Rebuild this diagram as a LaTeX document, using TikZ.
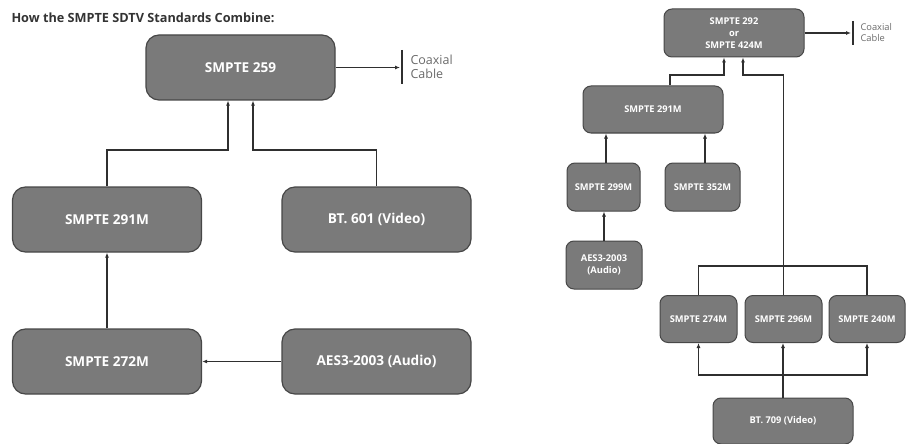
\documentclass[tikz,border=0pt]{standalone}
\usepackage{fontspec}
\setsansfont{Open Sans}
\usepackage{tikz}
\usetikzlibrary{arrows.meta}

\definecolor{boxgray}{HTML}{7A7A7A}
\definecolor{boxedge}{HTML}{474747}
\definecolor{linegray}{HTML}{2F2F2F}
\definecolor{titlegray}{HTML}{333333}
\definecolor{cablegray}{HTML}{6A6A6A}

\begin{document}
\begin{tikzpicture}[x=1pt,y=-1pt,
  stdbox/.style={draw=boxedge, line width=1.2pt, fill=boxgray, rounded corners=13pt,
    text=white, inner sep=0pt, font=\sffamily\bfseries\fontsize{13.6}{15}\selectfont,
    minimum width=189pt, minimum height=65pt},
  smallbox/.style={stdbox, rounded corners=8pt, line width=1pt, align=center,
    font=\sffamily\bfseries\fontsize{9.3}{12}\selectfont,
    minimum width=76pt, minimum height=47pt},
  widebox/.style={smallbox, minimum width=140pt},
  link/.style={draw=linegray, line width=1.1pt},
  arr/.style={link, -{Latex[length=5pt,width=4pt]}},
  cable/.style={text=cablegray, align=left, anchor=west}]
\useasboundingbox (0,0) rectangle (906,444);

% title
\node[anchor=west, text=titlegray, font=\sffamily\bfseries\fontsize{12.7}{14}\selectfont]
  (title) at (8,18) {How the SMPTE SDTV Standards Combine:};

% SDTV chain
\node[stdbox] (s259) at (240.5,67.5) {SMPTE 259};
\node[stdbox] (s291l) at (107,219.5) {SMPTE 291M};
\node[stdbox] (bt601) at (376.5,219.5) {BT. 601 (Video)};
\node[stdbox] (s272) at (107,361.5) {SMPTE 272M};
\node[stdbox] (aesl) at (376.5,361.5) {AES3-2003 (Audio)};

\coordinate (coaxl) at (400,67.5);
\draw[arr] (s259.east) -- (coaxl);
\draw[link] (402,50) -- (402,84);
\node[cable, font=\sffamily\fontsize{12.5}{14}\selectfont] (cablel) at (407,67) {Coaxial\\Cable};

\coordinate (in1) at ([xshift=-12.5pt]s259.south);
\coordinate (in2) at ([xshift=12.5pt]s259.south);
\draw[arr] (s291l.north) |- (in1 |- 0,150) -- (in1);
\draw[arr] (bt601.north) |- (in2 |- 0,150) -- (in2);
\draw[arr] (s272.north) -- (s291l.south);
\draw[arr] (aesl.west) -- (s272.east);

% HDTV chain
\node[widebox, minimum height=48pt] (s292) at (734,33) {SMPTE 292\\or\\SMPTE 424M};
\node[widebox] (s291r) at (653,109.5) {SMPTE 291M};
\node[smallbox, minimum width=73pt, minimum height=48pt] (s299) at (603.5,187) {SMPTE 299M};
\node[smallbox, minimum width=75pt, minimum height=48pt] (s352) at (702.5,187) {SMPTE 352M};
\node[smallbox, minimum height=48pt] (aesr) at (604,265) {AES3-2003\\(Audio)};
\node[smallbox, minimum width=77pt] (s274) at (698.5,319) {SMPTE 274M};
\node[smallbox, minimum width=77pt] (s296) at (783.5,319) {SMPTE 296M};
\node[smallbox] (s240) at (867,319) {SMPTE 240M};
\node[widebox, minimum height=46pt] (bt709) at (783,421) {BT. 709 (Video)};

\coordinate (coaxr) at (851,33);
\draw[arr] (s292.east) -- (coaxr);
\draw[link] (853,21) -- (853,45);
\node[cable, font=\sffamily\fontsize{9.3}{11}\selectfont] (cabler) at (857,33) {Coaxial\\Cable};

\coordinate (in3) at ([xshift=-10pt]s292.south);
\coordinate (in4) at ([xshift=9pt]s292.south);
\draw[arr] ([xshift=17pt]s291r.north) |- (in3 |- 0,75) -- (in3);
\draw[arr] (s296.north) |- (in4 |- 0,75) -- (in4);
\draw[arr] ([xshift=2.5pt]s299.north) -- ([xshift=2.5pt]s299.north |- s291r.south);
\draw[arr] ([xshift=2.5pt]s352.north) -- ([xshift=2.5pt]s352.north |- s291r.south);
\draw[arr] (aesr.north) -- (aesr.north |- s299.south);
\draw[link] (s274.north) |- (s296.north |- 0,266) -| (s240.north);
\draw[arr] (bt709.north) -- (bt709.north |- s296.south);
\draw[arr] (bt709.north |- 0,375) -| (s274.south);
\draw[arr] (bt709.north |- 0,375) -| (s240.south);
\end{tikzpicture}
\end{document}
